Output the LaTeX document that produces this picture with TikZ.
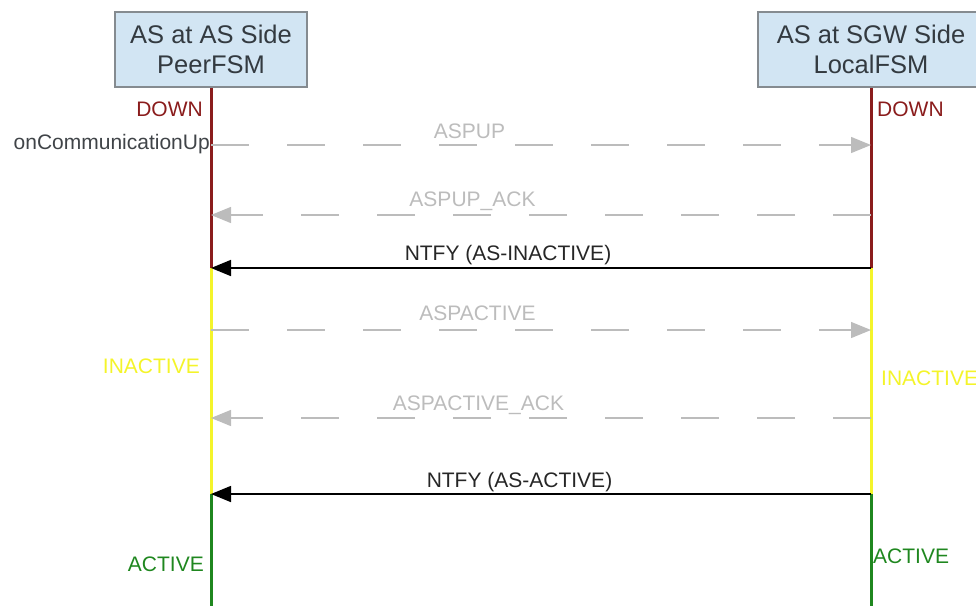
\documentclass[tikz,border=0pt]{standalone}
\usepackage{fontspec}
\setmainfont{Liberation Sans}
\usetikzlibrary{arrows.meta, positioning}

\definecolor{fsmfill}{HTML}{D2E5F3}
\definecolor{fsmline}{HTML}{858B90}
\definecolor{fsmtext}{HTML}{333A40}
\definecolor{downred}{HTML}{8A1C1C}
\definecolor{inactyellow}{HTML}{F4F42A}
\definecolor{activegreen}{HTML}{1F871F}
\definecolor{ghostgray}{HTML}{BCBCBC}
\definecolor{notegray}{HTML}{404448}

\tikzstyle{fsm} = [rectangle, draw=fsmline, fill=fsmfill, line width=1.5pt, minimum height=75pt, align=center, text=fsmtext, font=\fontsize{25.5}{30}\selectfont]
\tikzstyle{life} = [line width=3pt]
\tikzstyle{msg} = [line width=1.6pt, -{Triangle[length=20pt,width=16pt]}]
\tikzstyle{ghost} = [msg, ghostgray, line width=1.3pt, dash pattern=on 38pt off 38pt]
\tikzstyle{lbl} = [inner sep=0pt, anchor=base, font=\fontsize{21}{24}\selectfont]
\tikzstyle{state} = [lbl]

\begin{document}
\begin{tikzpicture}[x=1pt, y=-1pt]
\useasboundingbox (0,0) rectangle (976,606);

% the two state machines
\node (peer) [fsm, minimum width=192pt] at (211,49.5) {AS at AS Side\\PeerFSM};
\node (local) [fsm, minimum width=226pt] at (871,49.5) {AS at SGW Side\\LocalFSM};

% points on the lifelines
\coordinate (p1) at (211,268);
\coordinate (p2) at (211,494);
\coordinate (p3) at (211,606);
\coordinate (l1) at (871,268);
\coordinate (l2) at (871,494);
\coordinate (l3) at (871,606);

\draw[life, downred] (peer.south) -- (p1);
\draw[life, inactyellow] (p1) -- (p2);
\draw[life, activegreen] (p2) -- (p3);
\draw[life, downred] (local.south) -- (l1);
\draw[life, inactyellow] (l1) -- (l2);
\draw[life, activegreen] (l2) -- (l3);

% message end points
\coordinate (pa) at (211,145);
\coordinate (la) at (871,145);
\coordinate (pb) at (211,215);
\coordinate (lb) at (871,215);
\coordinate (pc) at (211,330);
\coordinate (lc) at (871,330);
\coordinate (pd) at (211,418);
\coordinate (ld) at (871,418);

\draw[ghost] (pa) -- (la);
\draw[ghost] (lb) -- (pb);
\draw[msg] (l1) -- (p1);
\draw[ghost] (pc) -- (lc);
\draw[ghost] (ld) -- (pd);
\draw[msg] (l2) -- (p2);

% message labels
\node (aspup) [lbl, text=ghostgray] at (469.5,138) {ASPUP};
\node (aspupack) [lbl, text=ghostgray] at (472.5,206) {ASPUP\_ACK};
\node (ntfyinact) [lbl, text=black!85] at (508,260.5) {NTFY (AS-INACTIVE)};
\node (aspact) [lbl, text=ghostgray] at (477.5,320.5) {ASPACTIVE};
\node (aspactack) [lbl, text=ghostgray] at (478.5,410) {ASPACTIVE\_ACK};
\node (ntfyact) [lbl, text=black!85] at (519.5,487) {NTFY (AS-ACTIVE)};

% states
\node (downp) [state, anchor=base east, text=downred] at (203,116) {DOWN};
\node (downl) [state, anchor=base west, text=downred] at (877,116) {DOWN};
\node (commup) [state, anchor=base east, text=notegray] at (210,149) {onCommunicationUp};
\node (inactp) [state, anchor=base east, text=inactyellow] at (200,373) {INACTIVE};
\node (inactl) [state, anchor=base west, text=inactyellow] at (881,385) {INACTIVE};
\node (actp) [state, anchor=base east, text=activegreen] at (204,571) {ACTIVE};
\node (actl) [state, anchor=base west, text=activegreen] at (873,563) {ACTIVE};
\end{tikzpicture}
\end{document}
